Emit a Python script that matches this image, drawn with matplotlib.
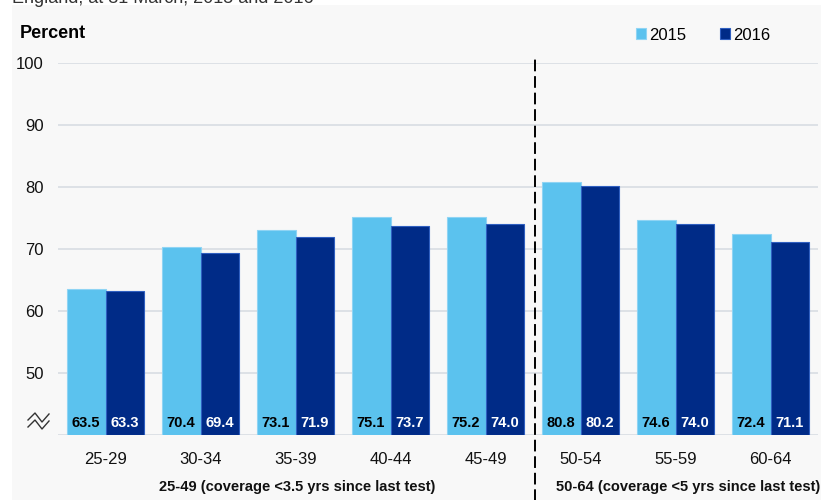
import matplotlib.pyplot as plt
import numpy as np
from matplotlib.lines import Line2D
from matplotlib.patches import Rectangle

plt.rcParams["font.family"] = ["Liberation Sans", "DejaVu Sans"]

age_groups = ["25-29", "30-34", "35-39", "40-44", "45-49", "50-54", "55-59", "60-64"]
cov_2015 = [63.5, 70.4, 73.1, 75.1, 75.2, 80.8, 74.6, 72.4]
cov_2016 = [63.3, 69.4, 71.9, 73.7, 74.0, 80.2, 74.0, 71.1]
years = ["2015", "2016"]
y_ticks = [50, 60, 70, 80, 90, 100]
band_labels = ["25-49 (coverage <3.5 yrs since last test)",
               "50-64 (coverage <5 yrs since last test)"]

LIGHT = "#5bc2ee"
DARK = "#002b87"

fig = plt.figure(figsize=(8.21, 5.00), dpi=100)
fig.patch.set_facecolor("white")
fig.patches.append(Rectangle((12 / 821, 0), 1, 1 - 5 / 500, transform=fig.transFigure,
                             facecolor="#f8f8f8", edgecolor="none", zorder=-10))
# title line sits mostly above the crop, as in the source image
fig.text(12 / 821, 1.003, "England, at 31 March, 2015 and 2016", fontsize=13,
         color="#333333", va="center", ha="left")

ax = fig.add_axes([58 / 821, 0.13, 760 / 821, 0.744])
ax.set_facecolor("none")

x = np.arange(len(age_groups))
w = 0.41
b1 = ax.bar(x - w / 2, np.array(cov_2015) - 40, w, bottom=40, color=LIGHT,
            edgecolor="#8fd4f4", linewidth=0.8, label=years[0], zorder=3)
b2 = ax.bar(x + w / 2, np.array(cov_2016) - 40, w, bottom=40, color=DARK,
            edgecolor="#2f5fc0", linewidth=0.8, label=years[1], zorder=3)

for xi, v in zip(x, cov_2015):
    ax.text(xi - w / 2, 42, f"{v:.1f}", ha="center", va="center", fontsize=10.5,
            fontweight="bold", color="black", zorder=4)
for xi, v in zip(x, cov_2016):
    ax.text(xi + w / 2, 42, f"{v:.1f}", ha="center", va="center", fontsize=10.5,
            fontweight="bold", color="white", zorder=4)

ax.set_xlim(-0.5, len(age_groups) - 0.5)
ax.set_ylim(40, 100)
ax.set_yticks(y_ticks)
ax.set_xticks(x, age_groups)
for yv in [40] + y_ticks:
    ax.axhline(yv, color="#d8dde3", linewidth=1.2, zorder=1)
ax.tick_params(axis="both", length=0, labelsize=12, colors="#111111")
ax.tick_params(axis="y", pad=10.5)
ax.tick_params(axis="x", pad=12)
for s in ax.spines.values():
    s.set_visible(False)

# divider between the two screening bands
ax.axvline(4.52, ymin=-0.6, ymax=1.015, color="black", linewidth=1.4,
           linestyle=(0, (6, 2.5)), clip_on=False, zorder=5)

for xc, lab in zip([2.02, 6.13], band_labels):
    ax.text(xc, -0.14, lab, transform=ax.get_xaxis_transform(), ha="center",
            va="center", fontsize=10.5, fontweight="bold", color="#111111")

fig.text(20 / 821, 1 - 33 / 500, "Percent", fontsize=13, fontweight="bold",
         ha="left", va="center")

# axis break marker
for dy in (0, 7):
    xs = np.array([28, 35, 42, 49]) / 821
    ys = 1 - (np.array([420, 413, 422, 414]) + dy) / 500
    fig.add_artist(Line2D(xs, ys, color="#333333", linewidth=1.0,
                          transform=fig.transFigure))

ax.legend(handles=[b1, b2], labels=years, ncol=2, frameon=False, fontsize=12,
          handlelength=0.6, handleheight=0.6, handletextpad=0.2, columnspacing=2.0,
          loc="center", bbox_to_anchor=(703 / 821, 1 - 35 / 500),
          bbox_transform=fig.transFigure)

fig.savefig("out.png", dpi=100)
